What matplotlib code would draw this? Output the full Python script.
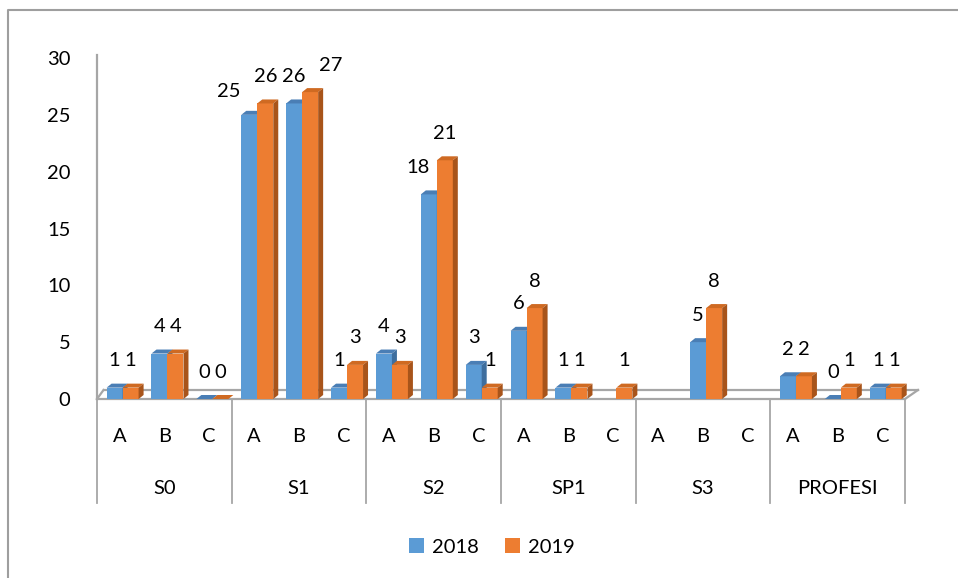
import matplotlib
matplotlib.use("Agg")
import matplotlib.pyplot as plt
from matplotlib.patches import Polygon, Patch
from matplotlib.lines import Line2D
import numpy as np

plt.rcParams['font.family'] = ['Lato', 'DejaVu Sans']

groups = ["S0", "S1", "S2", "SP1", "S3", "PROFESI"]
subs = ["A", "B", "C"]
series_names = ["2018", "2019"]
v2018 = [1, 4, 0, 25, 26, 1, 4, 18, 3, 6, 1, None, None, 5, None, 2, 0, 1]
v2019 = [1, 4, 0, 26, 27, 3, 3, 21, 1, 8, 1, 1, None, 8, None, 2, 1, 1]
yticks = [0, 5, 10, 15, 20, 25, 30]

# label nudges in pixels (series, index) -> (dx, dy), to avoid overlapping labels
label_shift = {(0, 3): (-21, -4), (1, 4): (21, 0), (0, 7): (-11, 0)}

front = ["#5B9BD5", "#ED7D31"]
top = ["#4A7EB5", "#CF6A22"]
side = ["#3E6E9E", "#A8541A"]
grid_col = "#A6A6A6"
FS = 14.5

W, H = 958, 578
fig = plt.figure(figsize=(W / 100, H / 100), dpi=100)
x0p, x1p, y0p, y1p = 97, 905, 399, 58
ax = fig.add_axes([x0p / W, 1 - y0p / H, (x1p - x0p) / W, (y0p - y1p) / H])
n = len(v2018)
ax.set_xlim(0, n)
ax.set_ylim(0, 30)
for s in ax.spines.values():
    s.set_visible(False)
ax.set_xticks([])
ax.set_yticks(yticks)
ax.tick_params(axis='y', length=0, pad=19, labelsize=FS)

pxx = (x1p - x0p) / n
pxy = (y0p - y1p) / 30
w = 16 / pxx
dx, dy = 5 / pxx, 4 / pxy
fdx, fdy = 13 / pxx, 9 / pxy
off = 0.07
pt = 72 / 100  # points per pixel

# floor and wall
kw = dict(color=grid_col, lw=1.6, clip_on=False, zorder=1)
ax.add_line(Line2D([0, 0], [0, 30.3], **kw))
ax.add_line(Line2D([0, n], [0, 0], **kw))
ax.add_line(Line2D([fdx * 0.5, n + fdx], [fdy, fdy], **kw))
ax.add_line(Line2D([0, fdx * 0.5], [0, fdy], **kw))
ax.add_line(Line2D([n, n + fdx], [0, fdy], **kw))

for i in range(n):
    c = i + 0.5 + off
    for k, vals in enumerate([v2018, v2019]):
        v = vals[i]
        if v is None:
            continue
        xl = c - w if k == 0 else c
        z = 3 + i * 2 + k
        ax.bar(xl, v, width=w, align='edge', color=front[k], zorder=z, clip_on=False)
        ax.add_patch(Polygon([(xl, v), (xl + w, v), (xl + w + dx, v + dy), (xl + dx, v + dy)],
                             closed=True, facecolor=top[k], edgecolor='none', zorder=z, clip_on=False))
        ax.add_patch(Polygon([(xl + w, 0), (xl + w + dx, dy), (xl + w + dx, v + dy), (xl + w, v)],
                             closed=True, facecolor=side[k], edgecolor='none', zorder=z, clip_on=False))
        sx, sy = label_shift.get((k, i), (0, 0))
        ax.annotate(str(v), (xl + w / 2, v), xytext=(sx * pt, (27 + sy) * pt),
                    textcoords='offset points',
                    ha='center', va='center', fontsize=FS, zorder=50, annotation_clip=False)

# category table
tr = ax.get_xaxis_transform()
ah = y0p - y1p
for g in range(len(groups) + 1):
    ax.add_line(Line2D([g * 3, g * 3], [0, -(503 - y0p) / ah], color=grid_col, lw=1.3,
                       transform=tr, clip_on=False))
for i in range(n):
    ax.text(i + 0.5, -(436 - y0p) / ah, subs[i % 3], transform=tr, ha='center', va='center', fontsize=FS)
for g, name in enumerate(groups):
    ax.text(g * 3 + 1.5, -(488 - y0p) / ah, name, transform=tr, ha='center', va='center', fontsize=FS)

handles = [Patch(facecolor=front[0], label=series_names[0]),
           Patch(facecolor=front[1], label=series_names[1])]
fig.legend(handles=handles, loc='center', bbox_to_anchor=(492 / W, 1 - 547 / H), ncol=2,
           frameon=False, fontsize=FS, handlelength=0.75, handleheight=0.75,
           handletextpad=0.4, columnspacing=1.3)

# outer border (left and top visible)
fig.add_artist(Line2D([8 / W, 8 / W, 1], [0, 1 - 10 / H, 1 - 10 / H], color="#9E9E9E", lw=1.5,
                      transform=fig.transFigure))

fig.savefig("out.png", dpi=100, facecolor='white')
